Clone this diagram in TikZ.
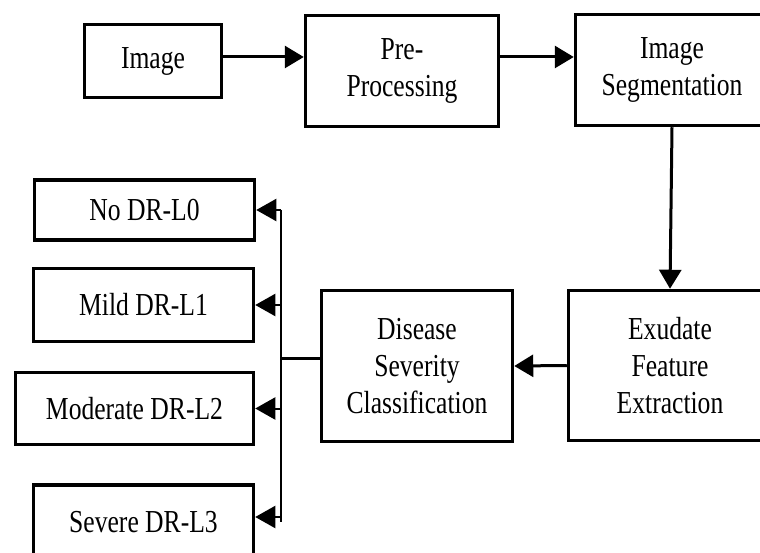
\documentclass[tikz,border=0pt]{standalone}
\usepackage{fontspec}
\setmainfont{Liberation Serif}[FakeStretch=0.8]
\usetikzlibrary{arrows.meta}
\tikzset{box/.style={draw, line width=3.5pt, align=center, inner sep=0pt, font=\fontsize{32}{37}\selectfont},
  flow/.style={line width=3pt, -{Triangle[length=19pt,width=22pt]}},
  branch/.style={line width=2pt, -{Triangle[length=20pt,width=22pt]}}}
\begin{document}
\begin{tikzpicture}[x=1pt,y=-1pt]
                % \draw[style=help lines,step=50] (0,0) grid (760,553);
                \useasboundingbox (0,0) rectangle (760,553);
                \clip (0,0) rectangle (760,553);
                \node[box, minimum width=137pt, minimum height=73pt] (img) at (153,61) {Image};
                \node[box, minimum width=193pt, minimum height=111pt] (pre) at (402,71) {Pre-\\Processing};
                \node[box, minimum width=193pt, minimum height=111pt] (seg) at (672,70) {Image\\Segmentation};
                \node[box, minimum width=203pt, minimum height=150pt] (exu) at (670,365.5) {Exudate\\Feature\\Extraction};
                \node[box, minimum width=191pt, minimum height=151pt] (dis) at (417,366) {Disease\\Severity\\Classification};
                \node[box, minimum width=220pt, minimum height=60pt] (l0) at (144.5,210) {No DR-L0};
                \node[box, minimum width=220pt, minimum height=73pt] (l1) at (143.5,305) {Mild DR-L1};
                \node[box, minimum width=238pt, minimum height=72pt] (l2) at (134.5,408.5) {Moderate DR-L2};
                \node[box, minimum width=220pt, minimum height=84pt] (l3) at (143.5,527) {\raisebox{10pt}{Severe DR-L3}};
                \coordinate (row) at ([yshift=4pt]img.east);
                \draw[flow] (row) -- (row -| pre.west);
                \draw[flow] (row -| pre.east) -- (row -| seg.west);
                \draw[flow] (seg.south) -- (exu.north);
                \draw[flow] (exu.west) -- (dis.east);
                \coordinate (jn) at (281,358);
                \coordinate (tt) at (281,210);
                \coordinate (tb) at (281,522);
                \draw[line width=3pt] (dis.west |- jn) -- (jn);
                \draw[line width=2pt] (tt) -- (tb);
                \foreach \n in {l0,l1,l2}
                    \draw[branch] (\n.east -| tt) -- (\n.east);
                \draw[branch] ([yshift=10pt]l3.east -| tt) -- ([yshift=10pt]l3.east);
            \end{tikzpicture}
\end{document}
